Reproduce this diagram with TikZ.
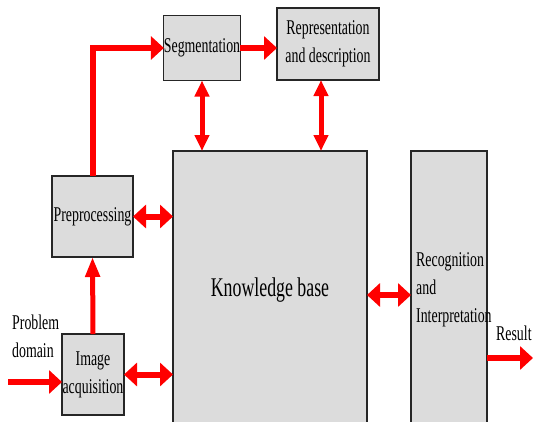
\documentclass[tikz,border=0pt]{standalone}
\usepackage{fontspec}
\setmainfont[FakeStretch=0.66]{Liberation Serif}
\usetikzlibrary{arrows.meta}
\definecolor{boxgray}{HTML}{DCDCDC}
\definecolor{arrred}{HTML}{FF0000}
\begin{document}
\begin{tikzpicture}[x=1pt,y=-1pt,
  box/.style={draw=black!85, line width=1.2pt, fill=boxgray, inner sep=0pt, outer sep=0pt, align=center, font=\fontsize{21}{28}\selectfont},
  harr/.style={draw=arrred, line width=6pt, -{Triangle[width=23pt,length=13pt]}},
  hdbl/.style={draw=arrred, line width=6pt, {Triangle[width=23pt,length=13pt]}-{Triangle[width=23pt,length=13pt]}},
  vdbl/.style={draw=arrred, line width=5pt, {Triangle[width=14pt,length=16pt]}-{Triangle[width=14pt,length=16pt]}},
  varr/.style={draw=arrred, line width=5pt, -{Triangle[width=14pt,length=20pt]}},
  lbl/.style={inner sep=0pt, align=left, font=\fontsize{21}{28}\selectfont}]
\clip (0,0) rectangle (533,421);
% boxes
\node[box, minimum width=76pt, minimum height=65pt] (seg) at (202,48) {Segmentation};
\node[box, minimum width=102pt, minimum height=72pt] (rep) at (328,44) {Representation\\and description};
\node[box, minimum width=194pt, minimum height=278pt, font=\fontsize{27}{32}\selectfont] (kb) at (270,290) {Knowledge base};
\node[box, minimum width=76pt, minimum height=278pt] (rec) at (449,290) {};
\node[lbl, anchor=west] (rectext) at (416,290) {Recognition\\and\\Interpretation};
\node[box, minimum width=81pt, minimum height=81pt] (pre) at (92.5,216.5) {Preprocessing};
\node[box, minimum width=62pt, minimum height=81pt] (img) at (93,374.5) {Image\\acquisition};
\node[lbl, anchor=west] (prob) at (12,336) {Problem\\domain};
\node[lbl, anchor=west] (res) at (496,333) {Result};
% connectors
\coordinate (pin) at (8,382);
\coordinate (pout) at (533,358);
\draw[harr] (pin) -- (pin -| img.west);
\draw[hdbl] (img.east) -- (img.east -| kb.west);
\draw[varr] (img.north) -- (pre.south);
\draw[hdbl] (pre.east) -- (pre.east -| kb.west);
\draw[harr] (pre.north) |- (seg.west);
\draw[harr] (seg.east) -- (seg.east -| rep.west);
\draw[vdbl] (seg.south) -- (seg.south |- kb.north);
\draw[vdbl] ([xshift=-7pt]rep.south) -- ([xshift=-7pt]rep.south |- kb.north);
\draw[hdbl] ([yshift=-5pt]kb.east) -- ([yshift=-5pt]kb.east -| rec.west);
\draw[harr] (pout -| rec.east) -- (pout);
\end{tikzpicture}
\end{document}
